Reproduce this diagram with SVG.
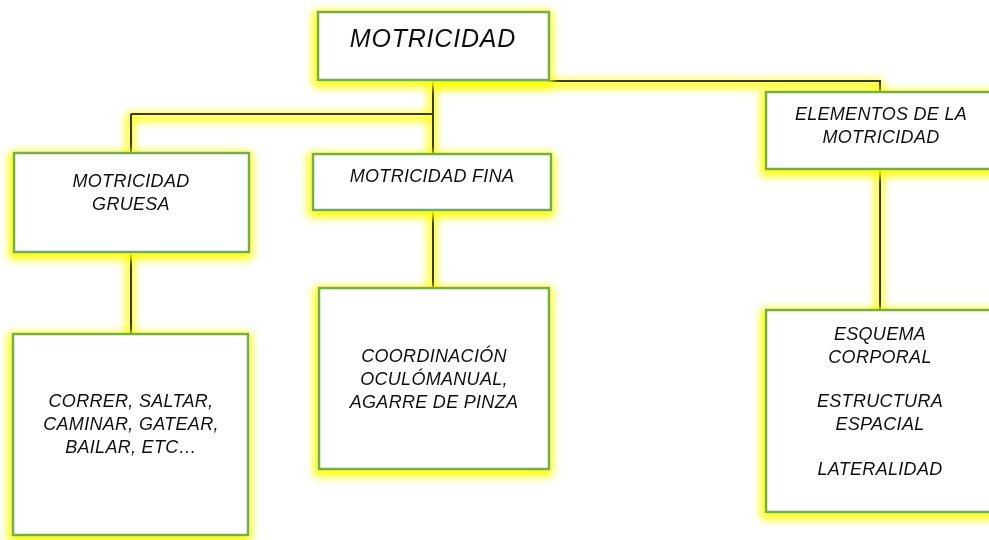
<svg xmlns="http://www.w3.org/2000/svg" width="989" height="540" viewBox="0 0 989 540">
<defs>
<filter id="glow" x="-30%" y="-30%" width="160%" height="160%">
<feMorphology in="SourceAlpha" operator="dilate" radius="3" result="d"/>
<feOffset in="d" dx="-1" dy="3" result="o"/>
<feGaussianBlur in="o" stdDeviation="4" result="b"/>
<feFlood flood-color="#ffff00" result="f"/>
<feComposite in="f" in2="b" operator="in" result="g"/>
<feMerge><feMergeNode in="g"/><feMergeNode in="SourceGraphic"/></feMerge>
</filter>
<style>
.box{fill:#ffffff;stroke:#72ae48;stroke-width:2.5}
.ln{fill:none;stroke:#3b3a2c;stroke-width:2}
text{font-family:"Liberation Sans",Arial,sans-serif;font-style:italic;fill:#111;text-anchor:middle;font-size:18px;letter-spacing:0.3px}
</style>
</defs>
<rect width="989" height="540" fill="#ffffff"/>
<g id="connectors" filter="url(#glow)">
<path class="ln" d="M433,80 V288 M131,114 H433 M131,114 V153 M131,252 V334 M433,81 H880 V92 M880,169 V310"/>
</g>
<g id="n-motricidad" filter="url(#glow)">
<rect class="box" x="318" y="12" width="231" height="68"/>
<text x="433" y="47" style="font-size:25px;letter-spacing:0.8px">MOTRICIDAD</text>
</g>
<g id="n-gruesa" filter="url(#glow)">
<rect class="box" x="14" y="153" width="235" height="99"/>
<text x="131" y="187">MOTRICIDAD</text>
<text x="131" y="210">GRUESA</text>
</g>
<g id="n-fina" filter="url(#glow)">
<rect class="box" x="313" y="154" width="238" height="56"/>
<text x="432" y="182">MOTRICIDAD FINA</text>
</g>
<g id="n-elementos" filter="url(#glow)">
<rect class="box" x="766" y="92" width="232" height="77"/>
<text x="881" y="120">ELEMENTOS DE LA</text>
<text x="881" y="143">MOTRICIDAD</text>
</g>
<g id="n-gruesa-ej" filter="url(#glow)">
<rect class="box" x="13" y="334" width="235" height="201"/>
<text x="131" y="407">CORRER, SALTAR,</text>
<text x="131" y="430">CAMINAR, GATEAR,</text>
<text x="131" y="453">BAILAR, ETC…</text>
</g>
<g id="n-fina-ej" filter="url(#glow)">
<rect class="box" x="319" y="288" width="230" height="181"/>
<text x="434" y="362">COORDINACIÓN</text>
<text x="434" y="385">OCULÓMANUAL,</text>
<text x="434" y="408">AGARRE DE PINZA</text>
</g>
<g id="n-elementos-ej" filter="url(#glow)">
<rect class="box" x="766" y="310" width="232" height="202"/>
<text x="880" y="340">ESQUEMA</text>
<text x="880" y="363">CORPORAL</text>
<text x="880" y="407">ESTRUCTURA</text>
<text x="880" y="430">ESPACIAL</text>
<text x="880" y="475">LATERALIDAD</text>
</g>
</svg>
